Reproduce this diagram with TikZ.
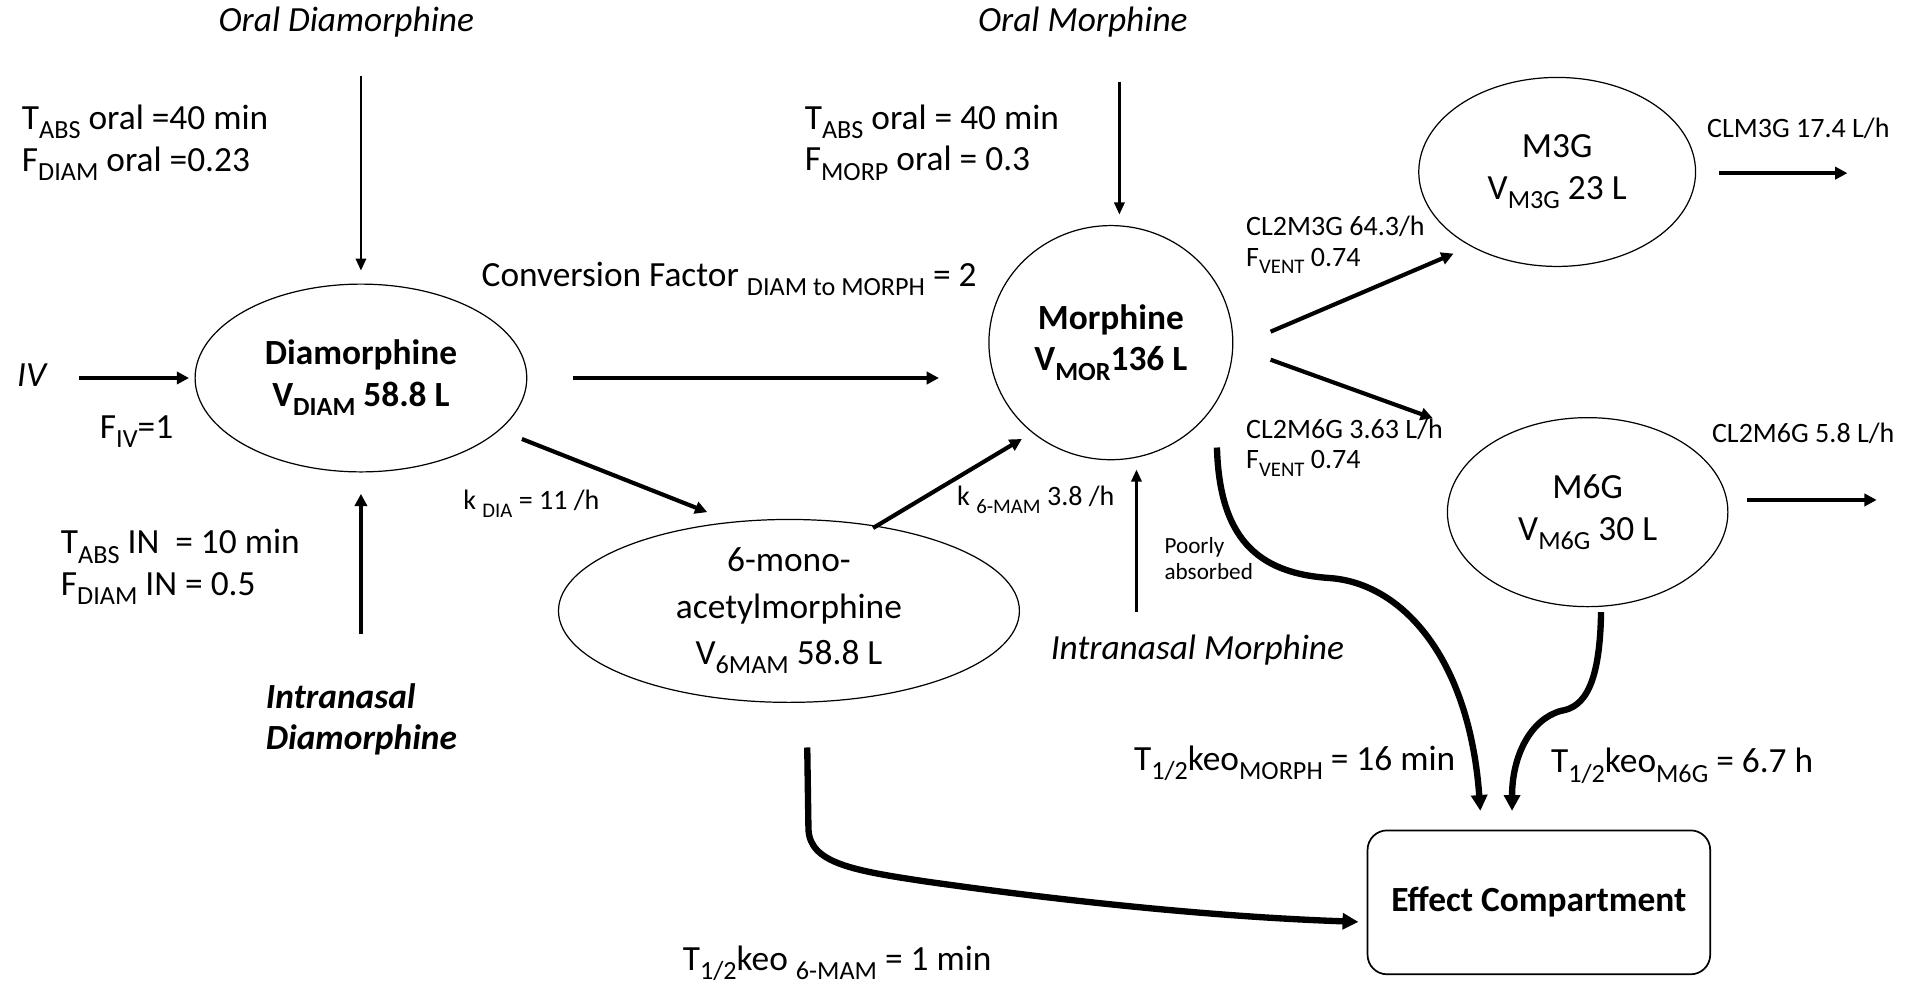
\documentclass[tikz,border=0pt]{standalone}
\usepackage{fontspec}
\setmainfont{Carlito}
\usetikzlibrary{shapes.geometric,arrows.meta}
\newcommand{\sbs}[1]{\raisebox{-0.55ex}{\scalebox{0.74}{#1}}}
\begin{document}
\begin{tikzpicture}[x=0.5pt,y=-0.5pt,
  every node/.style={inner sep=0pt, outer sep=0pt},
  main/.style={font=\fontsize{14.5}{17}\selectfont},
  small/.style={font=\fontsize{11.5}{12.5}\selectfont},
  tiny/.style={font=\fontsize{9.5}{11}\selectfont},
  comp/.style={ellipse, draw, line width=0.5pt, align=center, main},
  thinarrow/.style={line width=1.1pt, -{Triangle[length=5pt,width=4.2pt]}},
  thickarrow/.style={line width=1.7pt, -{Triangle[length=5pt,width=5pt]}},
  curvearrow/.style={line width=2.6pt, -{Triangle[length=6.5pt,width=6.5pt]}},
]
\useasboundingbox (0,0) rectangle (1568,807);

% compartments
\node[comp, minimum width=136pt, minimum height=77pt] (dia) at (296,310)
  {\textbf{Diamorphine}\\\textbf{V\sbs{DIAM} 58.8 L}};
\node[comp, minimum width=100pt, minimum height=96pt] (mor) at (911,281)
  {\textbf{Morphine}\\\textbf{V\sbs{MOR}136 L}};
\node[comp, minimum width=113.5pt, minimum height=77.5pt] (m3g) at (1277,141)
  {M3G\\V\sbs{M3G} 23 L};
\node[comp, minimum width=115pt, minimum height=77.5pt] (m6g) at (1302,420)
  {M6G\\V\sbs{M6G} 30 L};
\node[comp, minimum width=189pt, minimum height=75pt, font=\fontsize{14.5}{19}\selectfont] (mam) at (647,501)
  {6-mono-\\acetylmorphine\\V\sbs{6MAM} 58.8 L};
\node[draw, rounded corners=8pt, line width=0.7pt, minimum width=140.5pt, minimum height=59pt, main] (eff) at (1262,740)
  {\textbf{Effect Compartment}};

% labels
\node[main] (oraldia) at (284,18) {\itshape Oral Diamorphine};
\node[main] (oralmor) at (888,18) {\itshape Oral Morphine};
\node[main, anchor=west, align=left] (tabs1) at (18,117)
  {T\sbs{ABS} oral =40 min\\F\sbs{DIAM} oral =0.23};
\node[main, anchor=west, align=left] (tabs2) at (660,117)
  {T\sbs{ABS} oral = 40 min\\F\sbs{MORP} oral = 0.3};
\node[main] (iv) at (26,308) {\itshape IV};
\node[main, anchor=west] (fiv) at (82,354) {F\sbs{IV}=1};
\node[main, anchor=west, align=left] (tabsin) at (50,465)
  {T\sbs{ABS} IN\ \ = 10 min\\F\sbs{DIAM} IN = 0.5};
\node[main, anchor=west, align=left, font=\fontsize{14.5}{16.5}\selectfont] (india) at (218,590)
  {\bfseries\itshape Intranasal\\\bfseries\itshape Diamorphine};
\node[main, anchor=west] (conv) at (395,229)
  {Conversion Factor \sbs{DIAM to MORPH} = 2};
\node[small, anchor=west] (kdia) at (380,413) {k \sbs{DIA} = 11 /h};
\node[small, anchor=west] (kmam) at (785,410) {k \sbs{6-MAM} 3.8 /h};
\node[tiny, anchor=west, align=left] (poorly) at (955,458) {Poorly\\absorbed};
\node[main] (inmor) at (982,533) {\itshape Intranasal Morphine};
\node[small, anchor=west, align=left] (clm3g) at (1022,201)
  {CL2M3G 64.3/h\\F\sbs{VENT} 0.74};
\node[small, anchor=west, align=left] (clm6g) at (1022,367)
  {CL2M6G 3.63 L/h\\F\sbs{VENT} 0.74};
\node[small, anchor=west] (clm3gout) at (1400,105) {CLM3G 17.4 L/h};
\node[small, anchor=west] (clm6gout) at (1404,355) {CL2M6G 5.8 L/h};
\node[main, anchor=west] (keomor) at (930,626)
  {T\sbs{1/2}keo\sbs{MORPH} = 16 min};
\node[main, anchor=west] (keom6g) at (1272,628)
  {T\sbs{1/2}keo\sbs{M6G} = 6.7 h};
\node[main, anchor=west] (keomam) at (560,790)
  {T\sbs{1/2}keo \sbs{6-MAM} = 1 min};

% free ends of connectors
\coordinate (od1) at (296,62);
\coordinate (od2) at (296,222);
\coordinate (id1) at (296,520);
\coordinate (id2) at (296,405);
\coordinate (iv1) at (65,310);
\coordinate (iv2) at (155,310);
\coordinate (dm1) at (470,310);
\coordinate (dm2) at (770,310);
\coordinate (da1) at (428,360);
\coordinate (da2) at (580,420);
\coordinate (am1) at (716,433);
\coordinate (am2) at (838,360);
\coordinate (om1) at (918,67);
\coordinate (om2) at (918,176);
\coordinate (im1) at (932,502);
\coordinate (im2) at (932,385);
\coordinate (m31) at (1042,272);
\coordinate (m32) at (1192,208);
\coordinate (m61) at (1042,295);
\coordinate (m62) at (1175,343);
\coordinate (m3o1) at (1410,142);
\coordinate (m3o2) at (1515,142);
\coordinate (m6o1) at (1433,410);
\coordinate (m6o2) at (1539,410);
\coordinate (me1) at (998,367);
\coordinate (me2) at (1214,665);
\coordinate (ge1) at (1313,502);
\coordinate (ge2) at (1240,665);
\coordinate (ae1) at (662,613);
\coordinate (ae2) at (1114,756);

% connectors
\draw[thinarrow] (od1) -- (od2);
\draw[thickarrow] (id1) -- (id2);
\draw[thickarrow] (iv1) -- (iv2);
\draw[thickarrow] (dm1) -- (dm2);
\draw[thickarrow] (da1) -- (da2);
\draw[thickarrow] (am1) -- (am2);
\draw[thinarrow] (om1) -- (om2);
\draw[thinarrow] (im1) -- (im2);
\draw[thickarrow] (m31) -- (m32);
\draw[thickarrow] (m61) -- (m62);
\draw[thickarrow] (m3o1) -- (m3o2);
\draw[thickarrow] (m6o1) -- (m6o2);
\draw[curvearrow] (me1) .. controls (1000,440) and (1030,470) .. (1090,474)
  .. controls (1150,478) and (1205,540) .. (me2);
\draw[curvearrow] (ge1) .. controls (1312,560) and (1300,580) .. (1280,583)
  .. controls (1255,590) and (1240,620) .. (ge2);
\draw[curvearrow] (ae1) -- (663,680) .. controls (664,708) and (700,714) .. (760,723)
  .. controls (880,740) and (1000,752) .. (ae2);
\end{tikzpicture}
\end{document}
